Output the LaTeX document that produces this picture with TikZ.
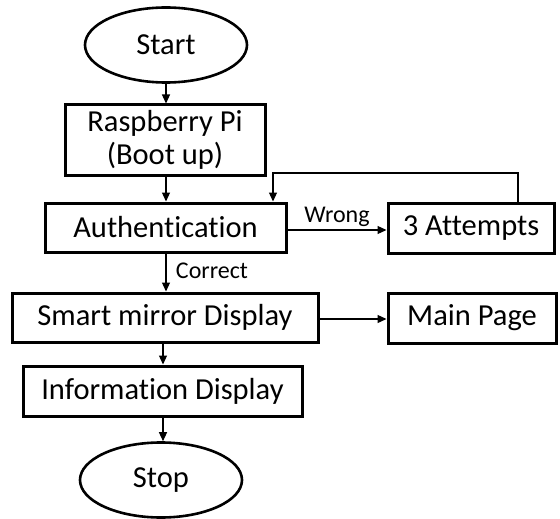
\documentclass[tikz,border=0pt]{standalone}
\usepackage{fontspec}
\setmainfont{Carlito}[Ligatures=NoCommon]
\usetikzlibrary{arrows.meta,shapes.geometric}
\begin{document}
\begin{tikzpicture}[x=1pt,y=-1pt,
  box/.style={draw,line width=3pt,inner sep=0pt,font=\fontsize{30.5}{33}\selectfont},
  term/.style={draw,ellipse,line width=2.6pt,inner sep=0pt,font=\fontsize{30.5}{33}\selectfont},
  conn/.style={line width=1.3pt,-{Triangle[length=9pt,width=8pt]}},
  lbl/.style={font=\fontsize{24}{26}\selectfont}]
\useasboundingbox (0,0) rectangle (560,519);
\node[term,minimum width=162pt,minimum height=75pt] (start) at (166,45) {Start};
\node[box,minimum width=200pt,minimum height=70pt,align=center] (rpi) at (165,140) {Raspberry Pi\\(Boot up)};
\node[box,minimum width=241pt,minimum height=49pt] (auth) at (165.5,227.5) {Authentication};
\node[box,minimum width=166pt,minimum height=50pt] (att) at (471,228) {3 Attempts};
\node[box,minimum width=306pt,minimum height=49pt] (smart) at (165,317.5) {Smart mirror Display};
\node[box,minimum width=168pt,minimum height=50pt] (main) at (472,318) {Main Page};
\node[box,minimum width=279pt,minimum height=50pt] (info) at (162.5,391) {Information Display};
\node[term,minimum width=162pt,minimum height=75pt] (stop) at (161,480) {Stop};
\coordinate (fbR) at (518,173);
\coordinate (fbL) at (273,173);
\draw[conn] (start.south -| 166,0) -- (rpi.north -| 166,0);
\draw[conn] (rpi.south -| 166,0) -- (auth.north -| 166,0);
\draw[conn] (auth.east |- 0,230) -- node[lbl,above=-1pt,pos=0.5] {Wrong} (att.west |- 0,230);
\draw[conn] (att.north -| fbR) -- (fbR) -- (fbL) -- (auth.north -| fbL);
\draw[conn] (auth.south -| 166,0) -- node[lbl,right=6pt,pos=0.45] {Correct} (smart.north -| 166,0);
\draw[conn] (smart.east |- 0,319) -- (main.west |- 0,319);
\draw[conn] (smart.south -| 163,0) -- (info.north -| 163,0);
\draw[conn] (info.south -| 163,0) -- (stop.north -| 163,0);
\end{tikzpicture}
\end{document}
